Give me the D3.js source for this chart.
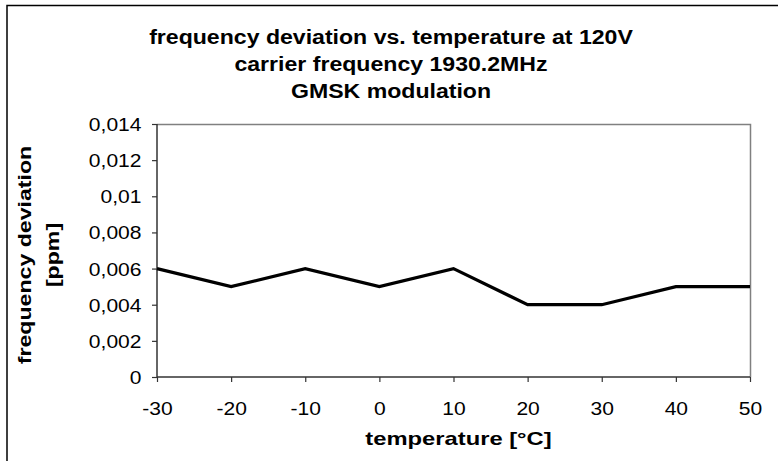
<!DOCTYPE html>
<html>
<head>
<meta charset="utf-8">
<script src="https://cdn.jsdelivr.net/npm/d3@7"></script>
<style>
  html, body { margin: 0; padding: 0; background: #fff; }
  svg { display: block; font-family: "Liberation Sans", Arial, sans-serif; }
</style>
</head>
<body>
<svg id="chart" width="778" height="461"></svg>
<script>
// Measured temperatures (°C) and frequency deviation (ppm)
const temperatures = [-30, -20, -10, 0, 10, 20, 30, 40, 50];
const deviation = [0.006, 0.005, 0.006, 0.005, 0.006, 0.004, 0.004, 0.005, 0.005];
const yTicks = [0, 0.002, 0.004, 0.006, 0.008, 0.01, 0.012, 0.014];
const xTicks = [-30, -20, -10, 0, 10, 20, 30, 40, 50];
const titleLines = [
  "frequency deviation vs. temperature at 120V",
  "carrier frequency 1930.2MHz",
  "GMSK modulation"
];
const yTitleLines = ["frequency deviation", "[ppm]"];
const xTitle = "temperature [°C]";

const svg = d3.select("#chart");
const W = 778;
const plot = { left: 157, right: 750, top: 124, bottom: 377 };

// text is drawn slightly wide, like the classic office chart renderer
const wideTick = 1.17, wideTitle = 1.1, wideAxisTitle = 1.25;

const x = d3.scaleLinear().domain([-30, 50]).range([plot.left, plot.right]);
const y = d3.scaleLinear().domain([0, 0.014]).range([plot.bottom, plot.top]);

// outer frame
svg.append("rect")
  .attr("x", 7).attr("y", 5.5)
  .attr("width", 800).attr("height", 500)
  .attr("fill", "none").attr("stroke", "#000").attr("stroke-width", 1.5);

// plot area frame (top and right edges in grey)
svg.append("path")
  .attr("d", `M${plot.left},${plot.top + 0.5}H${plot.right + 0.5}V${plot.bottom}`)
  .attr("fill", "none").attr("stroke", "#808080").attr("stroke-width", 1.5);

const fmtY = d => d === 0 ? "0" : String(d).replace(".", ",");
const fmtX = d => String(d);

// y axis
const yAxis = svg.append("g")
  .attr("transform", `translate(${plot.left},0)`)
  .call(d3.axisLeft(y).tickValues(yTicks).tickFormat(fmtY).tickSize(5));
// x axis
const xAxis = svg.append("g")
  .attr("transform", `translate(0,${plot.bottom})`)
  .call(d3.axisBottom(x).tickValues(xTicks).tickFormat(fmtX).tickSize(5));

[yAxis, xAxis].forEach(g => {
  g.select(".domain").attr("stroke", "#333").attr("stroke-width", 1.5);
  g.selectAll(".tick line").attr("stroke", "#333").attr("stroke-width", 1.2);
  g.selectAll(".tick text")
    .attr("fill", "#000")
    .style("font-family", '"Liberation Sans", Arial, sans-serif')
    .style("font-size", "18px");
});
yAxis.selectAll(".tick text")
  .attr("x", 0).attr("dy", "0.36em")
  .attr("transform", `translate(-15.5,0) scale(${wideTick},1)`);
xAxis.selectAll(".tick text")
  .attr("y", 0).attr("dy", "0.71em")
  .attr("transform", `translate(0,25) scale(${wideTick},1)`);

// domains without outer tick caps
yAxis.select(".domain").attr("d", `M0,${plot.top}V${plot.bottom}`);
xAxis.select(".domain").attr("d", `M${plot.left},0H${plot.right}`);

// data line
const line = d3.line()
  .x((d, i) => x(temperatures[i]))
  .y(d => y(d));
svg.append("path")
  .datum(deviation)
  .attr("d", line)
  .attr("fill", "none")
  .attr("stroke", "#000")
  .attr("stroke-width", 3.2)
  .attr("stroke-linejoin", "miter");

// chart title, centred on the chart
svg.append("g").selectAll("text")
  .data(titleLines).join("text")
  .attr("transform", (d, i) => `translate(${W / 2 + 2},${44 + i * 27}) scale(${wideTitle},1)`)
  .attr("text-anchor", "middle")
  .attr("font-weight", "bold")
  .attr("font-size", "21px")
  .text(d => d);

// y axis title
svg.append("g")
  .attr("transform", "translate(31,255) rotate(-90)")
  .selectAll("text")
  .data(yTitleLines).join("text")
  .attr("transform", (d, i) => `translate(0,${i * 28}) scale(${wideAxisTitle},1)`)
  .attr("text-anchor", "middle")
  .attr("font-weight", "bold")
  .attr("font-size", "18.5px")
  .text(d => d);

// x axis title
svg.append("text")
  .attr("transform", `translate(${(plot.left + plot.right) / 2 + 5},445) scale(${wideAxisTitle},1)`)
  .attr("text-anchor", "middle")
  .attr("font-weight", "bold")
  .attr("font-size", "19px")
  .text(xTitle);
</script>
</body>
</html>
